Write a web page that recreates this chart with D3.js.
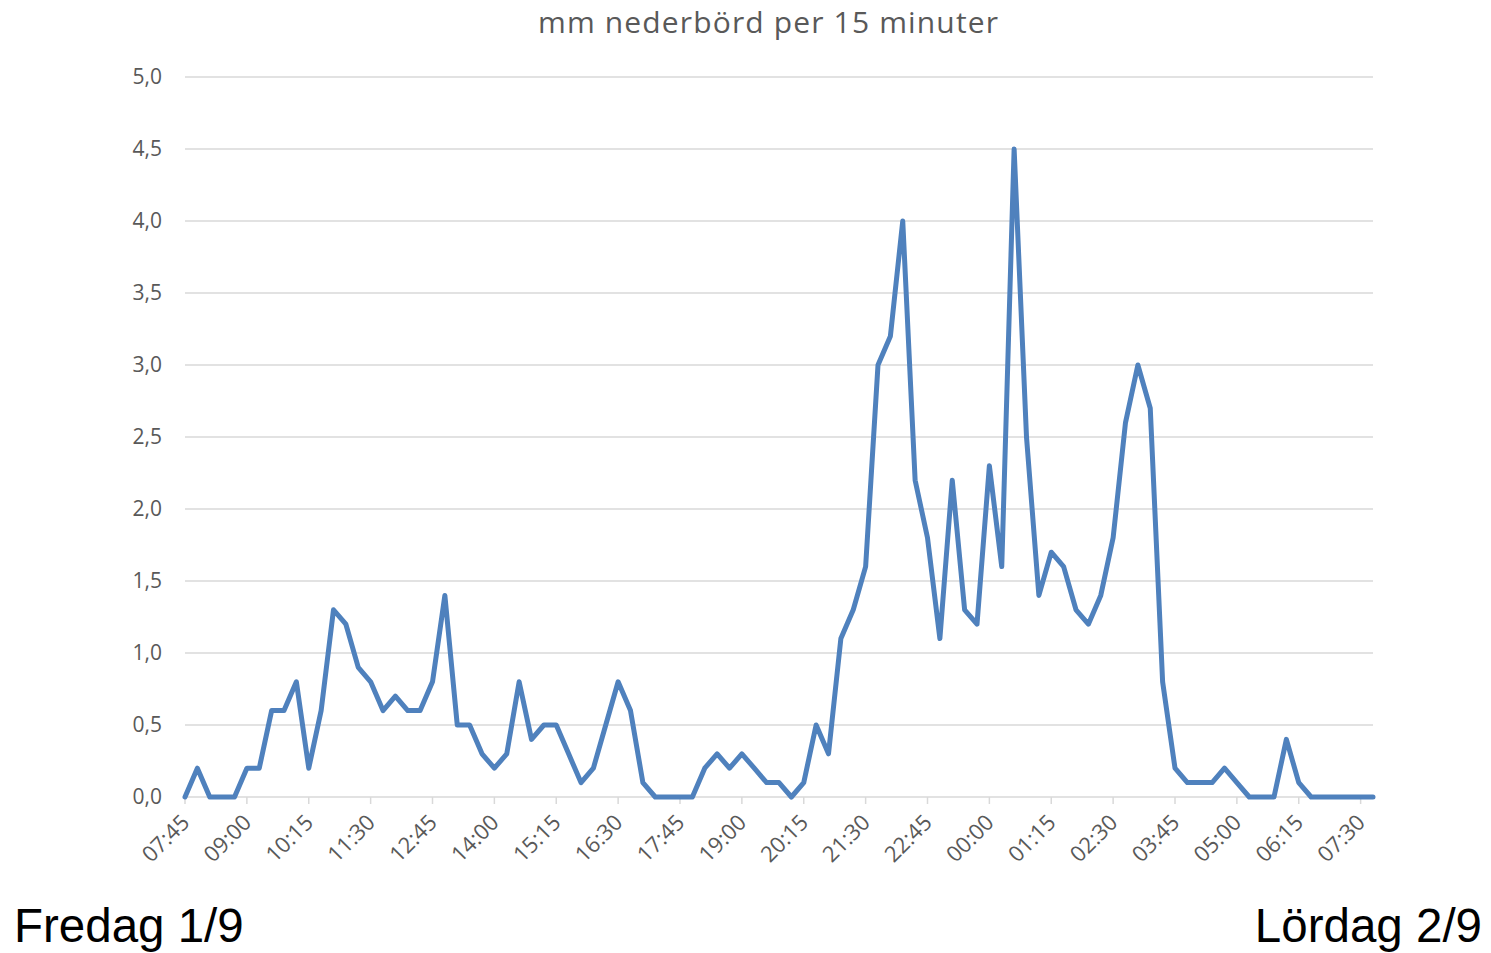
<!DOCTYPE html>
<html>
<head>
<meta charset="utf-8">
<script src="https://cdn.jsdelivr.net/npm/d3@7"></script>
<style>
  body { margin: 0; background: #fff; }
  svg { display: block; }
</style>
</head>
<body>
<svg id="chart" width="1491" height="953"></svg>
<script>
// mm nederbörd per 15 minuter, 07:45 fredag -> 07:45 lördag
const values = [
  0, 0.2, 0, 0, 0, 0.2, 0.2, 0.6, 0.6, 0.8,
  0.2, 0.6, 1.3, 1.2, 0.9, 0.8, 0.6, 0.7, 0.6, 0.6,
  0.8, 1.4, 0.5, 0.5, 0.3, 0.2, 0.3, 0.8, 0.4, 0.5,
  0.5, 0.3, 0.1, 0.2, 0.5, 0.8, 0.6, 0.1, 0, 0,
  0, 0, 0.2, 0.3, 0.2, 0.3, 0.2, 0.1, 0.1, 0,
  0.1, 0.5, 0.3, 1.1, 1.3, 1.6, 3.0, 3.2, 4.0, 2.2,
  1.8, 1.1, 2.2, 1.3, 1.2, 2.3, 1.6, 4.5, 2.5, 1.4,
  1.7, 1.6, 1.3, 1.2, 1.4, 1.8, 2.6, 3.0, 2.7, 0.8,
  0.2, 0.1, 0.1, 0.1, 0.2, 0.1, 0, 0, 0, 0.4,
  0.1, 0, 0, 0, 0, 0, 0
];
const tickLabels = ["07:45","09:00","10:15","11:30","12:45","14:00","15:15","16:30","17:45","19:00",
  "20:15","21:30","22:45","00:00","01:15","02:30","03:45","05:00","06:15","07:30"];
const yTicks = [0, 0.5, 1, 1.5, 2, 2.5, 3, 3.5, 4, 4.5, 5];
const title = "mm nederbörd per 15 minuter";
const dayLabels = ["Fredag 1/9", "Lördag 2/9"];

const svg = d3.select('#chart');
const plotL = 185, plotR = 1373, plotT = 77, plotB = 797;

const x = d3.scaleLinear().domain([0, values.length - 1]).range([plotL, plotR]);
const y = d3.scaleLinear().domain([0, 5]).range([plotB, plotT]);

// grid
svg.append('g')
  .selectAll('line')
  .data(yTicks)
  .join('line')
  .attr('x1', plotL).attr('x2', plotR)
  .attr('y1', d => y(d)).attr('y2', d => y(d))
  .attr('stroke', '#d9d9d9')
  .attr('stroke-width', 1.5);

// y labels
const fmt = d => d.toFixed(1).replace('.', ',');
svg.append('g')
  .selectAll('text')
  .data(yTicks)
  .join('text')
  .attr('x', 162)
  .attr('y', d => y(d))
  .attr('dy', '0.35em')
  .attr('text-anchor', 'end')
  .attr('font-family', 'Open Sans, sans-serif')
  .attr('font-size', 21)
  .attr('fill', '#595959')
  .text(fmt);

// x ticks + labels
const tickIdx = tickLabels.map((t, i) => i * 5);
svg.append('g')
  .selectAll('line')
  .data(tickIdx)
  .join('line')
  .attr('x1', d => x(d)).attr('x2', d => x(d))
  .attr('y1', plotB).attr('y2', plotB + 7)
  .attr('stroke', '#d9d9d9')
  .attr('stroke-width', 1.5);

svg.append('g')
  .selectAll('text')
  .data(tickLabels)
  .join('text')
  .attr('transform', (d, i) => `translate(${x(i * 5) - 5},${plotB + 16}) rotate(-45)`)
  .attr('dy', '0.7em')
  .attr('text-anchor', 'end')
  .attr('font-family', 'Open Sans, sans-serif')
  .attr('font-size', 22)
  .attr('fill', '#595959')
  .text(d => d);

// line
const line = d3.line()
  .x((d, i) => x(i))
  .y(d => y(d));

svg.append('path')
  .datum(values)
  .attr('d', line)
  .attr('fill', 'none')
  .attr('stroke', '#4f81bd')
  .attr('stroke-width', 5)
  .attr('stroke-linejoin', 'round')
  .attr('stroke-linecap', 'round');

// title
svg.append('text')
  .attr('x', 768).attr('y', 33)
  .attr('text-anchor', 'middle')
  .attr('font-family', 'Open Sans, sans-serif')
  .attr('font-size', 30)
  .attr('fill', '#595959')
  .attr('textLength', 460)
  .attr('lengthAdjust', 'spacing')
  .text(title);

// day labels
svg.append('text')
  .attr('x', 14).attr('y', 942)
  .attr('font-family', 'Liberation Sans, Arial, sans-serif')
  .attr('font-size', 47.5)
  .attr('fill', '#000')
  .text(dayLabels[0]);
svg.append('text')
  .attr('x', 1482).attr('y', 942)
  .attr('text-anchor', 'end')
  .attr('font-family', 'Liberation Sans, Arial, sans-serif')
  .attr('font-size', 47.5)
  .attr('fill', '#000')
  .text(dayLabels[1]);
</script>
</body>
</html>
